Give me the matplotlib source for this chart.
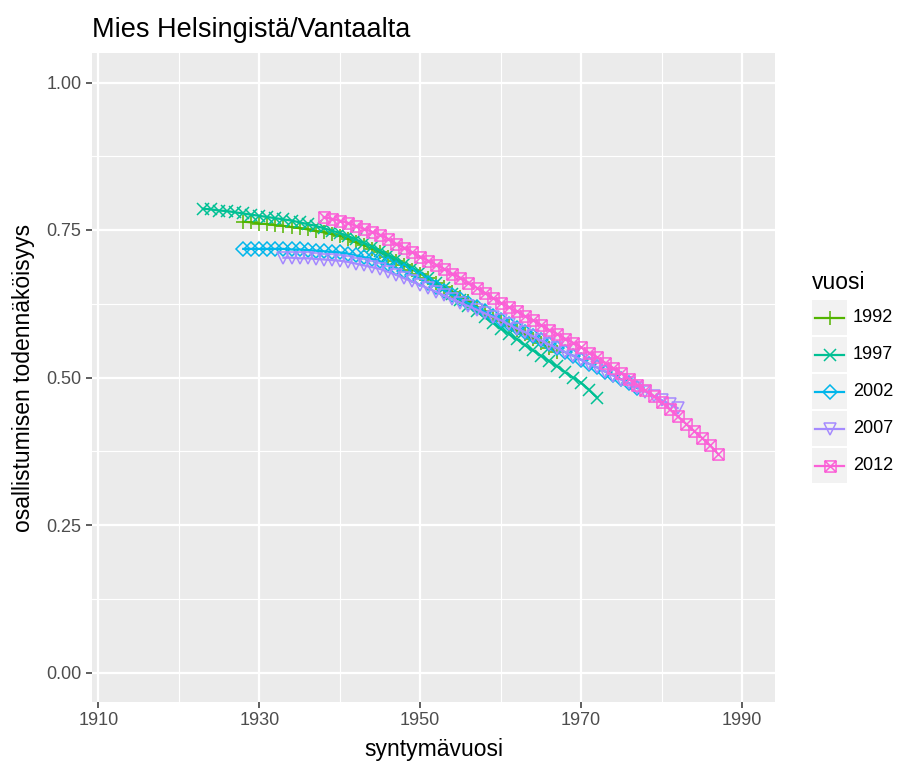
import numpy as np
import matplotlib
matplotlib.use("Agg")
import matplotlib.pyplot as plt
from matplotlib.path import Path
from matplotlib.lines import Line2D
from matplotlib.patches import Rectangle

plt.rcParams["font.family"] = ["Liberation Sans", "DejaVu Sans"]

# participation probability by birth year, one series per election year
years = ["1992", "1997", "2002", "2007", "2012"]
first_birth_year = [1928, 1923, 1928, 1933, 1938]

p_1992 = [0.764, 0.763, 0.761, 0.760, 0.758, 0.757, 0.755, 0.753, 0.751, 0.748,
          0.746, 0.743, 0.740, 0.735, 0.729, 0.724, 0.718, 0.712, 0.705, 0.698,
          0.690, 0.683, 0.676, 0.668, 0.660, 0.653, 0.645, 0.637, 0.629, 0.620,
          0.612, 0.603, 0.595, 0.588, 0.580, 0.573, 0.565, 0.558, 0.550, 0.543]
p_1997 = [0.786, 0.785, 0.783, 0.782, 0.780, 0.778, 0.776, 0.774, 0.772, 0.770,
          0.768, 0.766, 0.763, 0.760, 0.757, 0.753, 0.749, 0.745, 0.740, 0.734,
          0.728, 0.722, 0.715, 0.708, 0.701, 0.693, 0.686, 0.678, 0.669, 0.660,
          0.651, 0.642, 0.632, 0.622, 0.612, 0.602, 0.593, 0.583, 0.574, 0.565,
          0.555, 0.546, 0.537, 0.528, 0.519, 0.509, 0.500, 0.491, 0.479, 0.466]
p_2002 = [0.718, 0.718, 0.718, 0.718, 0.718, 0.718, 0.717, 0.717, 0.716, 0.715,
          0.714, 0.713, 0.712, 0.710, 0.707, 0.704, 0.701, 0.697, 0.692, 0.686,
          0.680, 0.674, 0.667, 0.660, 0.654, 0.647, 0.640, 0.633, 0.626, 0.619,
          0.612, 0.605, 0.598, 0.591, 0.584, 0.577, 0.570, 0.563, 0.556, 0.550,
          0.543, 0.537, 0.530, 0.523, 0.517, 0.510, 0.504, 0.497, 0.490, 0.482]
p_2007 = [0.703, 0.703, 0.702, 0.702, 0.701, 0.700, 0.699, 0.698, 0.696, 0.693,
          0.690, 0.687, 0.684, 0.679, 0.674, 0.668, 0.663, 0.657, 0.651, 0.645,
          0.639, 0.633, 0.627, 0.621, 0.615, 0.609, 0.603, 0.597, 0.590, 0.583,
          0.577, 0.570, 0.563, 0.556, 0.550, 0.543, 0.537, 0.530, 0.523, 0.517,
          0.510, 0.503, 0.496, 0.490, 0.483, 0.476, 0.469, 0.462, 0.455, 0.448]
p_2012 = [0.772, 0.769, 0.766, 0.762, 0.757, 0.752, 0.747, 0.742, 0.735, 0.727,
          0.720, 0.712, 0.705, 0.698, 0.691, 0.684, 0.676, 0.669, 0.661, 0.652,
          0.644, 0.635, 0.627, 0.619, 0.612, 0.604, 0.597, 0.589, 0.581, 0.574,
          0.566, 0.559, 0.551, 0.542, 0.534, 0.525, 0.516, 0.507, 0.497, 0.488,
          0.478, 0.468, 0.458, 0.446, 0.434, 0.422, 0.410, 0.398, 0.385, 0.371]
probs = [p_1992, p_1997, p_2002, p_2007, p_2012]

x_ticks = [1910, 1930, 1950, 1970, 1990]
y_ticks = [0.00, 0.25, 0.50, 0.75, 1.00]
y_tick_labels = ["0.00", "0.25", "0.50", "0.75", "1.00"]

colors = ["#53B400", "#00C094", "#00B6EB", "#A58AFF", "#FB61D7"]

# open square with a cross inside (R pch 7)
square_cross = Path(
    [(-1, -1), (1, -1), (1, 1), (-1, 1), (-1, -1), (-1, -1), (1, 1), (-1, 1), (1, -1)],
    [Path.MOVETO, Path.LINETO, Path.LINETO, Path.LINETO, Path.CLOSEPOLY,
     Path.MOVETO, Path.LINETO, Path.MOVETO, Path.LINETO])
markers = ["+", "x", "D", "v", square_cross]
marker_sizes = [10, 8, 7, 9, 8]

fig = plt.figure(figsize=(9, 7.62), dpi=100)
ax = fig.add_axes([92 / 900, 1 - 702 / 762, (775 - 92) / 900, (702 - 53) / 762])
ax.set_facecolor("#EBEBEB")

for yr, start, p, col, mk, ms in zip(years, first_birth_year, probs, colors, markers, marker_sizes):
    x = np.arange(start, start + len(p))
    ax.plot(x, p, color=col, lw=1.6, marker=mk, ms=ms, mfc="none",
            mec=col, mew=1.1, zorder=3)

ax.set_xlim(1909.2, 1994.1)
ax.set_ylim(-0.05, 1.05)
ax.set_xticks(x_ticks)
ax.set_yticks(y_ticks)
ax.set_yticklabels(y_tick_labels)
ax.set_xticks([1920, 1940, 1960, 1980], minor=True)
ax.set_yticks([0.125, 0.375, 0.625, 0.875], minor=True)
ax.grid(which="major", color="white", lw=1.6)
ax.grid(which="minor", color="white", lw=0.8)
ax.set_axisbelow(True)
for s in ax.spines.values():
    s.set_visible(False)
ax.tick_params(which="major", length=4.5, width=1.1, color="#333333",
               labelcolor="#4D4D4D", labelsize=13, pad=3)
ax.tick_params(which="minor", length=0)

ax.set_xlabel("syntymävuosi", fontsize=16.5, labelpad=6)
ax.set_ylabel("osallistumisen todennäköisyys", fontsize=16.5, labelpad=8)
fig.text(92 / 900, 1 - 30 / 762, "Mies Helsingistä/Vantaalta", fontsize=19.5,
         ha="left", va="center")

# legend with grey key boxes
fig.text(812 / 900, 1 - 283 / 762, "vuosi", fontsize=16.5, ha="left", va="center")
for i, (yr, col, mk, ms) in enumerate(zip(years, colors, markers, marker_sizes)):
    top = 300 + 37 * i
    fig.patches.append(Rectangle((812 / 900, 1 - (top + 35) / 762), 35 / 900, 35 / 762,
                                 transform=fig.transFigure, facecolor="#F2F2F2",
                                 edgecolor="none"))
    yc = 1 - (top + 17.5) / 762
    fig.lines.append(Line2D([815 / 900, 844 / 900], [yc, yc], transform=fig.transFigure,
                            color=col, lw=1.6))
    fig.lines.append(Line2D([829.5 / 900], [yc], transform=fig.transFigure, color=col,
                            marker=mk, ms=ms, mfc="none", mec=col, mew=1.1))
    fig.text(853 / 900, yc, yr, fontsize=13, ha="left", va="center")

fig.savefig("out.png", dpi=100)
